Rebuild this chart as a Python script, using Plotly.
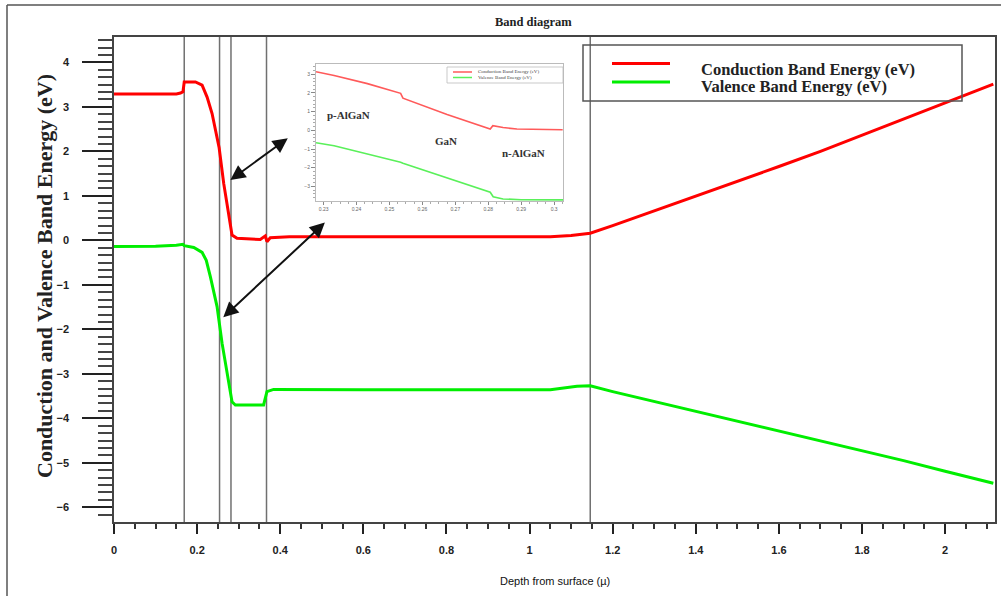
import plotly.graph_objects as go

# ---------------- data ----------------
depth_cb = [0, 0.05, 0.10, 0.15, 0.160, 0.166, 0.169, 0.196, 0.212, 0.224, 0.236, 0.248, 0.253, 0.264,
            0.276, 0.284, 0.296, 0.352, 0.364, 0.368, 0.376, 0.422, 0.6, 0.8, 1.0, 1.05, 1.1, 1.146,
            1.2, 1.3, 1.4, 1.5, 1.6, 1.7, 1.8, 1.9, 2.0, 2.116]
energy_cb = [3.29, 3.29, 3.29, 3.29, 3.31, 3.34, 3.56, 3.56, 3.49, 3.22, 2.85, 2.32, 2.08, 1.28,
             0.53, 0.12, 0.045, 0.02, 0.10, -0.03, 0.06, 0.08, 0.08, 0.08, 0.08, 0.08, 0.11, 0.16,
             0.33, 0.66, 0.99, 1.33, 1.66, 2.0, 2.36, 2.72, 3.08, 3.51]

depth_vb = [0, 0.05, 0.10, 0.15, 0.160, 0.166, 0.169, 0.192, 0.212, 0.222, 0.232, 0.248, 0.260,
            0.272, 0.284, 0.292, 0.360, 0.368, 0.384, 0.6, 0.8, 1.0, 1.05, 1.114, 1.146, 1.2, 1.3,
            1.4, 1.5, 1.6, 1.7, 1.8, 1.9, 2.0, 2.116]
energy_vb = [-0.14, -0.14, -0.13, -0.11, -0.10, -0.09, -0.12, -0.16, -0.27, -0.45, -0.82, -1.49, -2.31,
             -2.99, -3.63, -3.70, -3.70, -3.40, -3.35, -3.36, -3.36, -3.37, -3.36, -3.28, -3.27, -3.40, -3.62,
             -3.84, -4.06, -4.28, -4.50, -4.72, -4.95, -5.19, -5.46]

layer_boundaries = [0.169, 0.254, 0.2815, 0.367, 1.146]

# inset (zoomed region)
inset_depth_cb = [0.2277, 0.2332, 0.2433, 0.2534, 0.2541, 0.2675, 0.2806, 0.2814, 0.2845, 0.2887, 0.3026]
inset_energy_cb = [3.14, 2.93, 2.50, 1.98, 1.72, 0.85, 0.07, 0.25, 0.15, 0.07, 0.03]
inset_depth_vb = [0.2277, 0.2332, 0.2534, 0.2541, 0.2806, 0.2815, 0.2845, 0.2900, 0.3027]
inset_energy_vb = [-0.66, -0.82, -1.71, -1.76, -3.31, -3.55, -3.67, -3.71, -3.72]
inset_boundaries = [0.254, 0.2815]
inset_regions = ["p-AlGaN", "GaN", "n-AlGaN"]

series_names = ["Conduction Band Energy (eV)", "Valence Band Energy (eV)"]

# ---------------- helpers (pixel -> paper) ----------------
L, R, T, B = 114, 995, 37, 522
W, H = 1001, 596


def px(x):
    return (x - L) / (R - L)


def py(y):
    return (B - y) / (B - T)


RED = "#ff0000"
GREEN = "#00ee00"
SERIF = "Liberation Serif, Times New Roman, serif"
SANS = "Liberation Sans Narrow, Liberation Sans, Arial, sans-serif"

fig = go.Figure()
fig.add_trace(go.Scatter(x=depth_cb, y=energy_cb, mode="lines", name=series_names[0],
                         line=dict(color=RED, width=3), showlegend=False))
fig.add_trace(go.Scatter(x=depth_vb, y=energy_vb, mode="lines", name=series_names[1],
                         line=dict(color=GREEN, width=3), showlegend=False))

# inset traces
fig.add_trace(go.Scatter(x=inset_depth_cb, y=inset_energy_cb, mode="lines", xaxis="x2", yaxis="y2",
                         line=dict(color="#ff5a5a", width=1.6), showlegend=False))
fig.add_trace(go.Scatter(x=inset_depth_vb, y=inset_energy_vb, mode="lines", xaxis="x2", yaxis="y2",
                         line=dict(color="#5af05a", width=1.6), showlegend=False))

shapes = []
for b in layer_boundaries:
    shapes.append(dict(type="line", xref="x", yref="paper", x0=b, x1=b, y0=0, y1=1,
                       line=dict(color="#707070", width=1.5), layer="below"))
for b in inset_boundaries:
    shapes.append(dict(type="line", xref="x2", yref="y2 domain", x0=b, x1=b, y0=0, y1=1,
                       line=dict(color="#a0a0a0", width=1), layer="below"))

# outer frame (left + top)
shapes.append(dict(type="line", xref="paper", yref="paper", x0=px(7), x1=px(7), y0=py(5), y1=py(596),
                   line=dict(color="#555555", width=1.5)))
shapes.append(dict(type="line", xref="paper", yref="paper", x0=px(7), x1=px(1001), y0=py(5), y1=py(5),
                   line=dict(color="#555555", width=1.5)))

# main legend box
shapes.append(dict(type="rect", xref="paper", yref="paper", x0=px(583), x1=px(962), y0=py(101), y1=py(45),
                   line=dict(color="#555555", width=1.5)))
shapes.append(dict(type="line", xref="paper", yref="paper", x0=px(612), x1=px(670), y0=py(63.5), y1=py(63.5),
                   line=dict(color=RED, width=3)))
shapes.append(dict(type="line", xref="paper", yref="paper", x0=px(612), x1=px(670), y0=py(82), y1=py(82),
                   line=dict(color=GREEN, width=3)))

# inset legend box
shapes.append(dict(type="rect", xref="paper", yref="paper", x0=px(447), x1=px(563), y0=py(83), y1=py(67),
                   line=dict(color="#bbbbbb", width=0.8)))
shapes.append(dict(type="line", xref="paper", yref="paper", x0=px(453), x1=px(472), y0=py(72), y1=py(72),
                   line=dict(color="#ff5a5a", width=1.5)))
shapes.append(dict(type="line", xref="paper", yref="paper", x0=px(453), x1=px(472), y0=py(77.5), y1=py(77.5),
                   line=dict(color="#5af05a", width=1.5)))


def label(text, x, y, size, family, color="#222", angle=0, xanchor="center"):
    return dict(text=text, xref="paper", yref="paper", x=px(x), y=py(y), showarrow=False,
                xanchor=xanchor, yanchor="middle", textangle=angle,
                font=dict(family=family, size=size, color=color))


annotations = [
    label("<b>Band diagram</b>", 533, 22, 12.5, SERIF),
    label("<b>Conduction and Valence Band Energy (eV)</b>", 44, 276, 22, SERIF, angle=-90),
    label("Depth from surface (\u00b5)", 555, 581, 11, SANS, color="#111"),
    label("<b>" + series_names[0] + "</b>", 699, 69, 16.5, SERIF, xanchor="left"),
    label("<b>" + series_names[1] + "</b>", 699, 87, 16.5, SERIF, xanchor="left"),
    label(series_names[0], 476, 72, 5, SERIF, color="#444", xanchor="left"),
    label(series_names[1], 476, 77.5, 5, SERIF, color="#444", xanchor="left"),
]
for name, (ax_, ay_) in zip(inset_regions, [(348, 115), (446, 141), (523, 153)]):
    annotations.append(label("<b>" + name + "</b>", ax_, ay_, 11, SERIF, color="#333"))

# double-headed arrows
for (x0, y0, x1, y1) in [(0.280, 1.355, 0.4218, 2.32), (0.263, -1.73, 0.511, 0.43)]:
    annotations.append(dict(x=x0, y=y0, ax=x1, ay=y1, xref="x", yref="y", axref="x", ayref="y",
                            text="", showarrow=True, arrowhead=2, startarrowhead=2, arrowside="end+start",
                            arrowsize=1.5, startarrowsize=1.5, arrowwidth=2, arrowcolor="#111",
                            standoff=0, startstandoff=0))

fig.update_layout(
    width=W, height=H,
    margin=dict(l=L, r=W - R, t=T, b=H - B, autoexpand=False),
    paper_bgcolor="white", plot_bgcolor="white",
    shapes=shapes, annotations=annotations,
    xaxis=dict(range=[0, 2.12], tick0=0, dtick=0.2, ticks="outside", ticklen=10, tickwidth=2,
               tickcolor="#222", showline=True, linecolor="#444", linewidth=1.5, mirror=True,
               showgrid=False, zeroline=False, ticklabelstandoff=7,
               tickfont=dict(family=SANS, size=11, color="#222", weight="bold"),
               minor=dict(dtick=0.05, ticks="outside", ticklen=5, tickwidth=1.5, tickcolor="#333")),
    yaxis=dict(range=[-6.33, 4.57], tick0=0, dtick=1, ticks="outside", ticklen=30, tickwidth=2,
               tickcolor="#222", showline=True, linecolor="#444", linewidth=1.5, mirror=True,
               showgrid=False, zeroline=False, ticklabelstandoff=11,
               tickfont=dict(family=SANS, size=11, color="#222", weight="bold"),
               minor=dict(dtick=1 / 6, ticks="outside", ticklen=14, tickwidth=1.5, tickcolor="#444")),
    xaxis2=dict(domain=[px(316), px(563)], anchor="y2", range=[0.2277, 0.3027], dtick=0.01,
                ticks="outside", ticklen=3, tickwidth=0.8, tickcolor="#888", showline=True,
                linecolor="#bbbbbb", linewidth=1, mirror=True, showgrid=False, zeroline=False,
                tickfont=dict(family=SANS, size=5, color="#666"),
                minor=dict(dtick=0.0025, ticks="outside", ticklen=2, tickcolor="#aaa")),
    yaxis2=dict(domain=[py(201), py(64)], anchor="x2", range=[-3.78, 3.55], dtick=1,
                ticks="outside", ticklen=4, tickwidth=0.8, tickcolor="#888", showline=True,
                linecolor="#bbbbbb", linewidth=1, mirror=True, showgrid=False, zeroline=False,
                tickfont=dict(family=SANS, size=5, color="#666"),
                minor=dict(dtick=0.2, ticks="outside", ticklen=2, tickcolor="#aaa")),
)

fig.write_html("out.html", config={"displayModeBar": False},
               post_script="document.body.style.margin='0';document.body.style.padding='0';")
